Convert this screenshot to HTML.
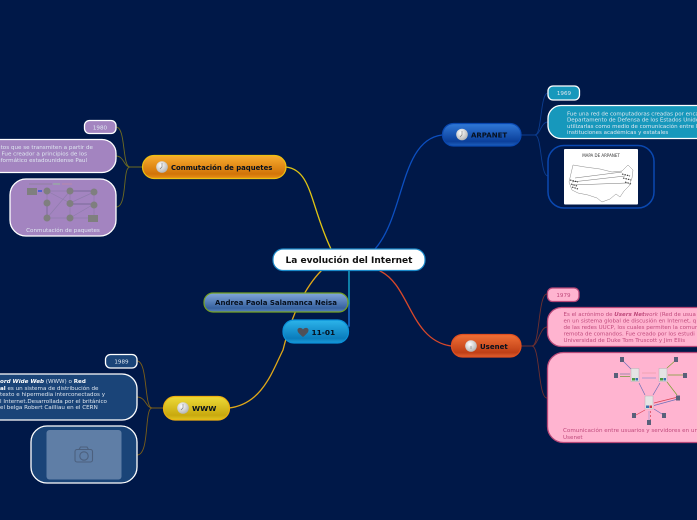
<!DOCTYPE html>
<html><head><meta charset="utf-8">
<style>
html,body{margin:0;padding:0;background:#001848;width:697px;height:520px;overflow:hidden}
svg{display:block}
text{font-family:"DejaVu Sans","Liberation Sans",sans-serif}
.t{font-size:5.6px;fill:#dfe7f0}
.p{font-size:5.6px;fill:#c04a7c}
.b{font-weight:bold;fill:#06101e}
</style></head>
<body>
<svg width="697" height="520" viewBox="0 0 697 520" xmlns="http://www.w3.org/2000/svg">
<defs>
<linearGradient id="or" x1="0" y1="0" x2="0" y2="1"><stop offset="0" stop-color="#f8ad30"/><stop offset=".8" stop-color="#d27408"/><stop offset="1" stop-color="#e89018"/></linearGradient>
<linearGradient id="ye" x1="0" y1="0" x2="0" y2="1"><stop offset="0" stop-color="#eedb38"/><stop offset=".8" stop-color="#c9a90e"/><stop offset="1" stop-color="#e0c420"/></linearGradient>
<linearGradient id="bl" x1="0" y1="0" x2="0" y2="1"><stop offset="0" stop-color="#3079d8"/><stop offset=".8" stop-color="#0b3f9a"/><stop offset="1" stop-color="#1f62c0"/></linearGradient>
<linearGradient id="re" x1="0" y1="0" x2="0" y2="1"><stop offset="0" stop-color="#f07036"/><stop offset=".8" stop-color="#bf3f16"/><stop offset="1" stop-color="#e06030"/></linearGradient>
<linearGradient id="cy" x1="0" y1="0" x2="0" y2="1"><stop offset="0" stop-color="#2cb4ea"/><stop offset=".8" stop-color="#0a7cbc"/><stop offset="1" stop-color="#1c9cd8"/></linearGradient>
<linearGradient id="gb" x1="0" y1="0" x2="0" y2="1"><stop offset="0" stop-color="#82a8dc"/><stop offset=".8" stop-color="#37629f"/><stop offset="1" stop-color="#5a84c0"/></linearGradient>
<radialGradient id="clk" cx=".4" cy=".35" r=".7"><stop offset="0" stop-color="#fff"/><stop offset="1" stop-color="#b0b0b0"/></radialGradient>
</defs>
<rect width="697" height="520" fill="#001848"/>

<!-- main connectors -->
<g fill="none" stroke-linecap="round">
<path d="M286 167C312 170 310 205 331 249" stroke="#e0c414" stroke-width="1.300"/>
<path d="M229 408C262 404 272 372 283 350C290 322 302 290 322 270" stroke="#e0a818" stroke-width="1.300"/>
<path d="M521 135" stroke="none"/>
<path d="M442 135C400 140 405 215 375 249" stroke="#0c4fc0" stroke-width="1.300"/>
<path d="M380 271C410 285 410 340 451 346" stroke="#d8482a" stroke-width="1.300"/>
<path d="M349 270V305" stroke="#1090b8" stroke-width="1.700"/>
<path d="M349 305V326" stroke="#1464c0" stroke-width="1.700"/>
<!-- left sub connectors -->
<g stroke="#6d6a20" stroke-width=".9">
<path d="M142 167H130C122 167 126 127 116 127"/>
<path d="M142 167H130C124 167 124 156 116 156"/>
<path d="M142 167H130C122 167 128 207 116 207"/>
</g>
<g stroke="#7a5e18" stroke-width=".9">
<path d="M163 408H152C144 408 148 361 137 361"/>
<path d="M163 408H152C146 408 146 397 137 397"/>
<path d="M163 408H152C144 408 150 455 137 455"/>
</g>
<g stroke="#0c3d90" stroke-width=".9">
<path d="M521 135H535C542 135 540 93 548 93"/>
<path d="M521 135H535C540 135 541 122 548 122"/>
<path d="M521 135H535C542 135 540 176 548 176"/>
</g>
<g stroke="#6e3030" stroke-width=".9">
<path d="M521 346H532C540 346 538 294 547 294"/>
<path d="M521 346H532C538 346 540 327 547 327"/>
<path d="M521 346H532C540 346 538 398 547 398"/>
</g>
</g>

<!-- Conmutación -->
<rect x="142.500" y="155.500" width="143.500" height="23" rx="11.500" fill="url(#or)" stroke="#eec010" stroke-width="1.200"/>
<circle cx="162" cy="167" r="5.800" fill="url(#clk)"/><path d="M162 163V167L160 169" stroke="#777" stroke-width=".6" fill="none"/>
<text x="171" y="170" font-size="6.900" class="b">Conmutación de paquetes</text>

<!-- purple -->
<rect x="84.500" y="120.500" width="31.500" height="13" rx="5" fill="#a384c0" stroke="#fff" stroke-width="1.300"/>
<text x="100" y="129.500" text-anchor="middle" class="t">1980</text>
<rect x="-40" y="139.500" width="156" height="33" rx="14" fill="#a384c0" stroke="#fff" stroke-width="1.300"/>
<text x="93" y="149" text-anchor="end" class="t">atos que se transmiten a partir de</text>
<text x="87" y="155.500" text-anchor="end" class="t">Fue creador a principios de los</text>
<text x="87" y="162" text-anchor="end" class="t">nformático estadounidense Paul</text>
<rect x="10" y="179" width="106" height="57" rx="16" fill="#a384c0" stroke="#fff" stroke-width="1.300"/>
<g stroke="#8f7cac" stroke-width=".7" fill="none">
<path d="M47 191H94M47 218H94M47 191V218M70 191V218M94 191V218M47 191L70 203M70 191L47 218M70 203L94 192M70 218L94 204"/>
<path d="M70 191H94M70 204H94M47 203V218" stroke="#7a6a98" stroke-width=".9"/>
</g>
<path d="M29 184H52" stroke="#8a8096" stroke-width=".8"/><path d="M53 184H60" stroke="#90c890" stroke-width=".8"/><path d="M62 184H72" stroke="#c08aa8" stroke-width=".8"/>
<g fill="#7f7f7f">
<circle cx="47" cy="191" r="3.500"/><circle cx="70" cy="191" r="3.500"/><circle cx="94" cy="192" r="3.500"/>
<circle cx="47" cy="203" r="3.500"/><circle cx="70" cy="203.500" r="3.500"/><circle cx="94" cy="205" r="3.500"/>
<circle cx="47" cy="218" r="3.500"/><circle cx="70" cy="218" r="3.500"/>
<rect x="27" y="188" width="10" height="7"/><rect x="88" y="215" width="10" height="7"/>
</g>
<rect x="38" y="190" width="4" height="2" fill="#5060d0"/>
<text x="63" y="232" text-anchor="middle" class="t">Conmutación de paquetes</text>

<!-- WWW -->
<rect x="163.500" y="396.500" width="66" height="23.500" rx="11.500" fill="url(#ye)" stroke="#eeb010" stroke-width="1.200"/>
<circle cx="183" cy="408" r="5.800" fill="url(#clk)"/><path d="M183 404V408L181 410" stroke="#777" stroke-width=".6" fill="none"/>
<text x="192" y="411" font-size="7.400" class="b">WWW</text>

<rect x="105.500" y="354.500" width="31.500" height="13.500" rx="5" fill="#1a4478" stroke="#fff" stroke-width="1.300"/>
<text x="121.500" y="363.500" text-anchor="middle" class="t">1989</text>
<rect x="-40" y="374" width="177" height="46" rx="15" fill="#1a4478" stroke="#fff" stroke-width="1.300"/>
<text y="383" class="t" x="0"><tspan font-weight="bold" font-style="italic" fill="#fff">ord Wide Web</tspan> (WWW) o <tspan font-weight="bold" fill="#fff">Red</tspan></text>
<text y="390" class="t" x="0"><tspan font-weight="bold" fill="#fff">al</tspan> es un sistema de distribución de</text>
<text y="396" class="t" x="0">texto e hipermedia interconectados y</text>
<text y="403" class="t" x="0">l Internet.Desarrollada por el británico</text>
<text y="409" class="t" x="0">el belga Robert Cailliau en el CERN</text>
<rect x="31" y="426" width="106" height="57" rx="16" fill="#1a4478" stroke="#fff" stroke-width="1.300"/>
<rect x="46.500" y="430" width="75" height="49.500" rx="3" fill="#5f7ea6"/>
<g fill="none" stroke="#4c607e" stroke-width="1.100">
<rect x="75" y="449.500" width="17.500" height="12.500" rx="2"/><circle cx="84" cy="456" r="4.200"/><path d="M79 449.500L80.500 447H87L88.500 449.500"/>
</g>

<!-- Center -->
<rect x="273" y="249" width="152" height="21.500" rx="10" fill="#fff" stroke="#1a88c8" stroke-width="1.200"/>
<text x="349" y="263" text-anchor="middle" font-size="9" font-weight="bold" fill="#111">La evolución del Internet</text>

<!-- Andrea -->
<rect x="204" y="293" width="144" height="19" rx="9" fill="url(#gb)" stroke="#74a020" stroke-width="1.200"/>
<text x="276" y="305" text-anchor="middle" font-size="7" class="b">Andrea Paola Salamanca Neisa</text>

<!-- 11-01 -->
<rect x="283" y="320" width="65.500" height="23" rx="11" fill="url(#cy)" stroke="#0a90d8" stroke-width="1.200"/>
<path d="M303 337C298 333 297.500 331.500 297.500 330C297.500 327.500 301.500 327 303 329.500C304.500 327 308.500 327.500 308.500 330C308.500 331.500 308 333 303 337Z" fill="#505058"/>
<text x="311.500" y="335" font-size="7.400" class="b">11-01</text>

<!-- ARPANET -->
<rect x="442.500" y="123.500" width="78.500" height="22.500" rx="11" fill="url(#bl)" stroke="#0a48b0" stroke-width="1.200"/>
<circle cx="462" cy="134.500" r="5.800" fill="url(#clk)"/><path d="M462 131V135L460 137" stroke="#777" stroke-width=".6" fill="none"/>
<text x="471" y="137.500" font-size="7" class="b">ARPANET</text>

<rect x="548" y="86" width="31.500" height="14" rx="5" fill="#1798bc" stroke="#fff" stroke-width="1.300"/>
<text x="564" y="95" text-anchor="middle" class="t">1969</text>
<rect x="548" y="105.500" width="190" height="33" rx="13" fill="#1798bc" stroke="#fff" stroke-width="1.300"/>
<text x="567" y="115.500" class="t" font-size="5.500" style="font-size:5.500px">Fue una red de computadoras creadas por enca</text>
<text x="567" y="121.500" class="t" style="font-size:5.500px">Departamento de Defensa de los Estados Unido</text>
<text x="567" y="128" class="t" style="font-size:5.500px">utilizarlas como medio de comunicación entre l</text>
<text x="567" y="134" class="t" style="font-size:5.500px">instituciones académicas y estatales</text>
<rect x="548" y="145.500" width="106" height="62.500" rx="16" fill="#001848" stroke="#0a48b0" stroke-width="1.500"/>
<rect x="564" y="149" width="74" height="55.500" fill="#fff" rx="1"/>
<text x="601" y="157" text-anchor="middle" font-size="4" fill="#333">MAPA DE ARPANET</text>
<path d="M573 165L585 167L600 169L612 172L622 171L628 165L633 170L632 178L629 186L624 191L620 197L616 194L610 199L602 202L597 198L588 195L578 193L572 190L569 182Z" fill="none" stroke="#8a8a8a" stroke-width=".5"/>
<path d="M572 182L625 176M572 185L627 183M575 178L622 172" stroke="#777" stroke-width=".5" fill="none"/>
<path d="M570 180L578 182M571 184L577 186M572 187L578 189M622 174L630 176M623 178L631 180M625 182L631 184" stroke="#333" stroke-width="1.100" stroke-dasharray="1.500 1" fill="none"/>

<!-- Usenet -->
<rect x="451.500" y="334.500" width="69.500" height="22.500" rx="11" fill="url(#re)" stroke="#e05020" stroke-width="1.200"/>
<circle cx="471" cy="346" r="5.800" fill="url(#clk)"/><path d="M471 346V349" stroke="#777" stroke-width=".6" fill="none"/>
<text x="480" y="349" font-size="7" class="b">Usenet</text>

<rect x="547.500" y="288" width="31.500" height="13.500" rx="5" fill="#ffb4d0" stroke="#b84878" stroke-width="1.300"/>
<text x="563.500" y="297" text-anchor="middle" class="p">1979</text>
<rect x="547.500" y="307.500" width="190" height="39" rx="14" fill="#ffb4d0" stroke="#b84878" stroke-width="1.300"/>
<text x="563.500" y="316" class="p" style="font-size:5.500px">Es el acrónimo de <tspan font-weight="bold" font-style="italic">Users Net</tspan><tspan font-style="italic">work</tspan> (Red de usua</text>
<text x="563.500" y="322.500" class="p" style="font-size:5.500px">en un sistema global de discusión en Internet, q</text>
<text x="563.500" y="329" class="p" style="font-size:5.500px">de las redes UUCP, los cuales permiten la comun</text>
<text x="563.500" y="335.500" class="p" style="font-size:5.500px">remota de comandos. Fue creado por los estudi</text>
<text x="563.500" y="342" class="p" style="font-size:5.500px">Universidad de Duke Tom Truscott y Jim Ellis</text>
<rect x="547.500" y="352.500" width="190" height="90" rx="16" fill="#ffb4d0" stroke="#b84878" stroke-width="1.300"/>
<g stroke-width=".7" fill="none">
<path d="M622 360L631 369M639 383L645 395M660 383L653 395" stroke="#6c70b8"/>
<path d="M620 374H630" stroke="#7a7aa0"/><path d="M620 376.500H630" stroke="#6a9a30"/>
<path d="M642 373H656" stroke="#e8a0a8"/><path d="M656 378H642" stroke="#8a90d0"/>
<path d="M667 368L676 360M668 375H683M667 382L677 395" stroke="#7aa030"/>
<path d="M654 403L676 397.500" stroke="#d84050"/><path d="M654 405.500L676 399.500" stroke="#6c70b8"/>
<path d="M645 410L636 415" stroke="#d84050"/>
<path d="M654 409L662 414" stroke="#6c70b8"/>
<path d="M649 411V420" stroke="#9a9ad0"/><path d="M650.500 411V420" stroke="#d84050" stroke-dasharray="2 2"/>
</g>
<g fill="#e4e4e4" stroke="#a8a8a8" stroke-width=".4">
<rect x="631" y="368.500" width="8" height="13"/><rect x="659" y="368.500" width="8" height="13"/><rect x="645" y="396" width="8" height="13"/>
</g>
<g fill="#4a9a40"><rect x="632" y="378" width="3" height="2.500"/><rect x="660" y="378" width="3" height="2.500"/></g>
<g fill="#3a70b0"><rect x="635.500" y="378" width="2.500" height="2.500"/><rect x="663.500" y="378" width="2.500" height="2.500"/><rect x="646" y="405.500" width="3" height="2.500"/></g>
<rect x="649.500" y="405.500" width="2.500" height="2.500" fill="#d03040"/>
<g fill="#58607a">
<rect x="620" y="357" width="4" height="5"/><rect x="674" y="357" width="4" height="5"/><rect x="614" y="373" width="4" height="5"/><rect x="683" y="373" width="4" height="5"/><rect x="676" y="395.500" width="4" height="5"/><rect x="632" y="413" width="4" height="5"/><rect x="662" y="413" width="4" height="5"/><rect x="647" y="420" width="4" height="5"/>
</g>
<text x="563" y="432" class="p">Comunicación entre usuarios y servidores en un</text>
<text x="563" y="439" class="p">Usenet</text>
</svg>
</body></html>
